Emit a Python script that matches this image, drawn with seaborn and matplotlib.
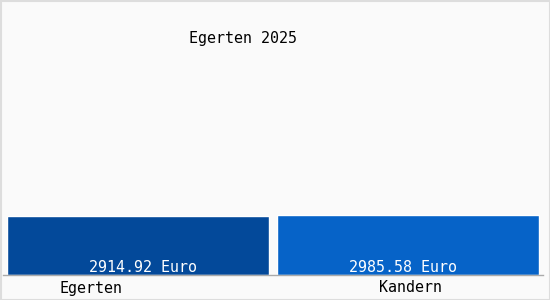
import matplotlib
matplotlib.use("Agg")
import matplotlib.pyplot as plt
import seaborn as sns
import pandas as pd
from matplotlib.patches import Rectangle

categories = ["Egerten", "Kandern"]
values = [2914.92, 2985.58]
value_labels = ["2914.92 Euro", "2985.58 Euro"]
title = "Egerten 2025"
colors = ["#03499a", "#0663c8"]

sns.set_theme(style="white")
plt.rcParams['font.family'] = ['DejaVu Sans Mono', 'DejaVu Sans']

fig = plt.figure(figsize=(5.5, 3), dpi=100)
fig.patch.set_facecolor("#fafafa")
ax = fig.add_axes([3/550, 25/300, 540/550, 265/300])
ax.set_facecolor("#fafafa")

df = pd.DataFrame({"cat": categories, "val": values})
sns.barplot(data=df, x="cat", y="val", hue="cat", palette=colors, width=0.97,
            legend=False, ax=ax, saturation=1)

ax.set_xlim(-0.5, 1.5)
ax.set_ylim(0, 2985.58 * 265 / 60.5)
for s in ["top", "left", "right"]:
    ax.spines[s].set_visible(False)
ax.spines["bottom"].set_color("#aaaaaa")
ax.spines["bottom"].set_linewidth(1)
ax.set_xticks([])
ax.set_yticks([])
ax.set_xlabel("")
ax.set_ylabel("")

label_shift = [0.02, -0.02]
for i, lab in enumerate(value_labels):
    ax.text(i + label_shift[i], 2.5/265, lab, transform=ax.get_xaxis_transform(),
            ha="center", va="baseline", color="white", fontsize=10.8)

cat_x = [91/550, 410/550]
for x, c in zip(cat_x, categories):
    fig.text(x, 1 - 288/300, c, ha="center", va="center", color="black", fontsize=10.8)

fig.text(243/550, 1 - 38/300, title, ha="center", va="center", color="black", fontsize=10.8)

fig.patches.append(Rectangle((0.5/550, 0.5/300), 549/550, 299/300, transform=fig.transFigure,
                             fill=False, edgecolor="#dddddd", linewidth=1.5))

fig.savefig("out.png", dpi=100, facecolor=fig.get_facecolor())
